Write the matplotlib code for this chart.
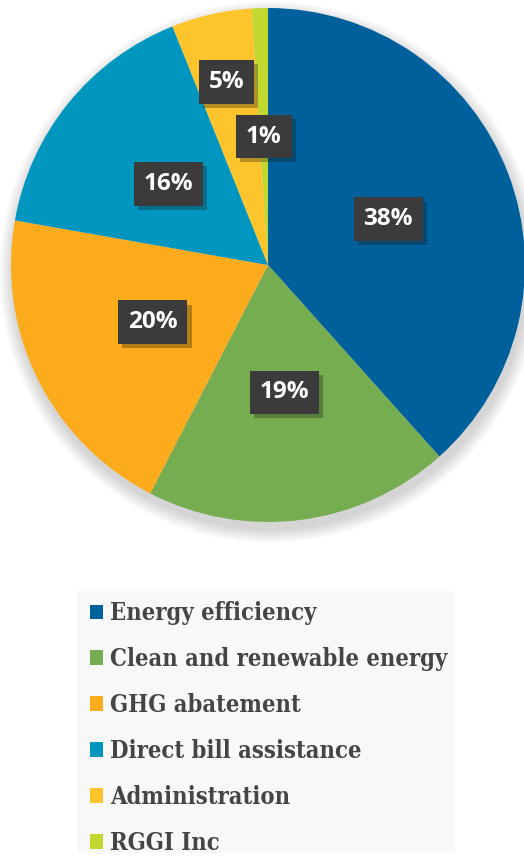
import matplotlib
matplotlib.use('Agg')
import matplotlib.pyplot as plt
import matplotlib.patheffects as pe
import numpy as np
from matplotlib.patches import Circle, Rectangle

categories = ['Energy efficiency', 'Clean and renewable energy', 'GHG abatement',
              'Direct bill assistance', 'Administration', 'RGGI Inc']
shares = [38, 19, 20, 16, 5, 1]
colors = ['#00609c', '#77ad51', '#fbab1b', '#0096c0', '#fdc42c', '#c3d82f']
# how far out each percentage box sits (fraction of radius)
label_r = [0.5, 0.5, 0.5, 0.5, 0.73, 0.5]

W, H = 524, 863
fig = plt.figure(figsize=(W / 100, H / 100), dpi=100)
ax = fig.add_axes([0, 0, 1, 1])

cx, cy, R = 268, H - 265, 257

# soft drop shadow under the pie
for k in range(14):
    ax.add_patch(Circle((cx + 2, cy - 7), R + 14 - k, facecolor='#000000',
                        alpha=0.012, edgecolor='none', zorder=0))

wedges, _ = ax.pie(shares, colors=colors, startangle=90, counterclock=False,
                   center=(cx, cy), radius=R,
                   wedgeprops=dict(linewidth=0, zorder=2))

for w, r, v in zip(wedges, label_r, shares):
    th = np.deg2rad((w.theta1 + w.theta2) / 2)
    x = cx + r * R * np.cos(th)
    y = cy + r * R * np.sin(th)
    t = ax.text(x, y, f'{v}%', ha='center', va='center', fontsize=17.5,
                fontweight='bold', family='Open Sans', color='white', zorder=4,
                bbox=dict(boxstyle='square,pad=0.4', facecolor='#3b3b3b',
                          edgecolor='none'))
    t.get_bbox_patch().set_path_effects(
        [pe.SimplePatchShadow(offset=(3, -3), alpha=0.3), pe.Normal()])

ax.set_xlim(0, W)
ax.set_ylim(0, H)
ax.set_aspect('equal')
ax.axis('off')

# legend panel background
ax.add_patch(Rectangle((77, H - 853), 378, 262, facecolor='#f8f8f8',
                       edgecolor='none', zorder=1))

leg = ax.legend(wedges, categories, loc='upper left',
                bbox_to_anchor=(90 / W, 1 - 601 / H), frameon=False,
                handlelength=0.55, handleheight=0.55, handletextpad=0.3,
                labelspacing=0.93, borderpad=0, borderaxespad=0,
                prop=dict(family='DejaVu Serif', stretch='condensed',
                          weight='bold', size=17))
leg.set_zorder(5)
for t in leg.get_texts():
    t.set_color('#454545')

fig.savefig('out.png', dpi=100)
